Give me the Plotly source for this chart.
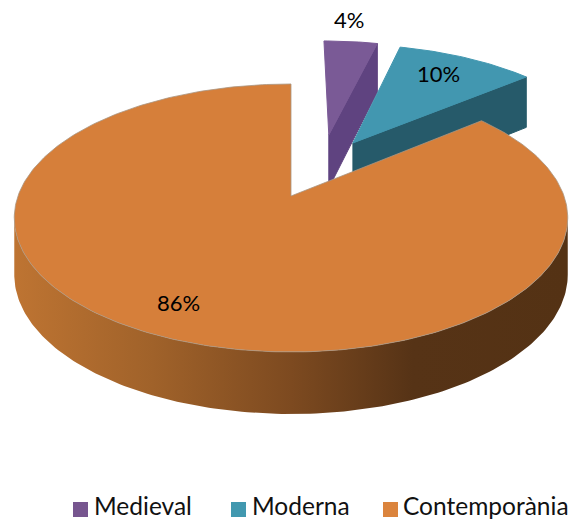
import math
import plotly.graph_objects as go

categories = ['Medieval', 'Moderna', 'Contemporània']
values = [4, 10, 86]

top_colors = ['#7a5a96', '#4297b0', '#d67f3a']
side_colors = ['#5f4380', '#265a6a']
legend_colors = ['#77568f', '#4198af', '#db843d']
wall_scale = [[0, '#be7432'], [0.25, '#a0622a'], [0.5, '#7d4a20'], [0.72, '#563316'], [1, '#543214']]

# exploded offset and radius of each slice, in disc units
explode = [(0.15, 0.507), (0.243, 0.436), (0, 0)]
radius = [0.97, 1.0, 1.0]
label_pos = [(349, 19), (438, 73), (178, 302)]
legend_marker_x = [80.5, 238.5, 390.5]
legend_text_x = [95, 253, 404]
LEGEND_Y = 509.5
LEGEND_TEXT_Y = 505

# perspective view of the disc, fitted by eye on the picture
CX, CY = 291, 196
BX, BY, K = 273, 130.4, 0.164
DEPTH, DEPTH_K = 55.8, 0.1


def project(X, Y, down=False):
    d = 1 + K * Y
    px = CX + BX * X / d
    py = CY - BY * Y / d
    if down:
        py += DEPTH / (1 + DEPTH_K * Y)
    return px, py


def rim(ang, off, r=1.0):
    return off[0] + r * math.sin(ang), off[1] + r * math.cos(ang)


def polygon(points, color, line=None, name=None):
    return go.Scatter(
        x=[p[0] for p in points] + [points[0][0]],
        y=[p[1] for p in points] + [points[0][1]],
        mode='lines',
        fill='toself',
        fillcolor=color,
        line=dict(color=line or color, width=1),
        hoverinfo='skip' if name is None else 'name',
        name=name or '',
        showlegend=False,
    )


total = sum(values)
edges = [0]
for v in values:
    edges.append(edges[-1] + v / total * 2 * math.pi)

fig = go.Figure()

for i, name in enumerate(categories):
    off = explode[i]
    a0, a1 = edges[i], edges[i + 1]
    steps = max(4, int((a1 - a0) / math.radians(1)))
    angles = [a0 + (a1 - a0) * s / steps for s in range(steps + 1)]
    arc = [rim(a, off, radius[i]) for a in angles]

    if i < 2:
        # cut face on the right of the slice
        p = arc[-1]
        fig.add_trace(polygon([project(*off), project(*p), project(*p, True), project(*off, True)], side_colors[i]))
    else:
        # outer wall of the big slice, between the two side extremes of the ellipse
        front = [s for s in arc if s[1] <= -K]
        pts = [project(*s) for s in front] + [project(*s, True) for s in reversed(front)]
        fig.add_trace(go.Scatter(
            x=[p[0] for p in pts] + [pts[0][0]],
            y=[p[1] for p in pts] + [pts[0][1]],
            mode='lines',
            fill='toself',
            fillgradient=dict(type='horizontal', colorscale=wall_scale),
            line=dict(width=0),
            hoverinfo='skip',
            showlegend=False,
        ))

    outline = 'rgba(170,150,130,0.8)' if i == 2 else top_colors[i]
    fig.add_trace(polygon([project(*off)] + [project(*s) for s in arc], top_colors[i], line=outline, name=name))

# legend entries
fig.add_trace(go.Scatter(
    x=legend_marker_x,
    y=[LEGEND_Y] * len(categories),
    mode='markers',
    marker=dict(symbol='square', size=15, color=legend_colors),
    text=categories,
    hoverinfo='text',
    showlegend=False,
))
for name, x in zip(categories, legend_text_x):
    fig.add_annotation(x=x, y=LEGEND_TEXT_Y, text=name, showarrow=False, xanchor='left', xshift=-2, borderpad=0,
                       font=dict(family='Lato', size=24.5, color='#111111'))

for v, pos in zip(values, label_pos):
    fig.add_annotation(x=pos[0], y=pos[1], text='%d%%' % v, showarrow=False,
                       font=dict(family='Lato', size=22, color='black'))

fig.update_layout(
    width=576,
    height=521,
    margin=dict(l=0, r=0, t=0, b=0),
    paper_bgcolor='white',
    plot_bgcolor='white',
    xaxis=dict(range=[0, 576], visible=False, fixedrange=True),
    yaxis=dict(range=[521, 0], visible=False, fixedrange=True),
    font=dict(family='Lato', size=24, color='#111111'),
    showlegend=False,
)

fig.write_html("out.html", config=dict(displayModeBar=False), post_script="document.body.style.margin='0';")
